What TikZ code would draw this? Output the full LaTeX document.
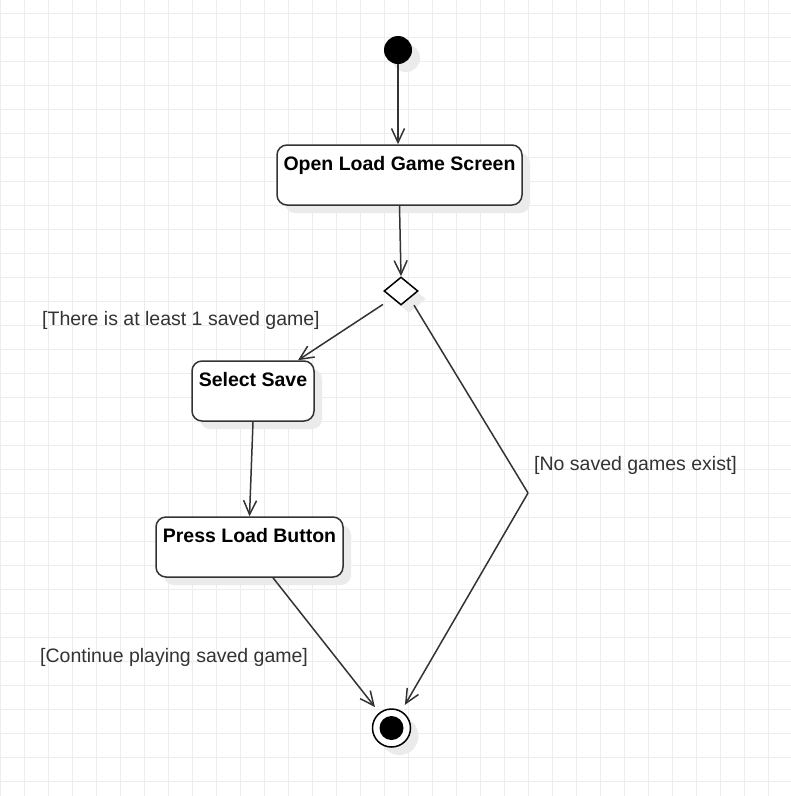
\documentclass[tikz,border=0pt]{standalone}
\usepackage{fontspec}
\setmainfont{Liberation Sans}
\usetikzlibrary{arrows.meta}
\usetikzlibrary{shapes.geometric}
\usetikzlibrary{shadows}
\usetikzlibrary{positioning}
\definecolor{mline}{HTML}{333333}
\definecolor{mgrid}{HTML}{EDEDED}
\definecolor{mshade}{HTML}{EBEBEB}
\tikzset{
  shadowed/.style = {drop shadow={shadow xshift=8pt, shadow yshift=-8pt, fill=mshade, opacity=1}},
  act/.style = {draw=mline, line width=1.5, rounded corners=10, fill=white, shadowed,
    font=\fontsize{19.5}{22}\selectfont\bfseries, text=black,
    text height=19, text depth=29, inner ysep=6, inner xsep=0},
  initial/.style = {circle, fill=black, inner sep=0, minimum size=28, shadowed},
  final/.style = {circle, draw=black, line width=1.5, fill=white, inner sep=0, minimum size=38, shadowed,
    path picture={\fill[black] (path picture bounding box.center) circle (12pt);}},
  choice/.style = {diamond, draw=black, line width=1.5, fill=white, inner sep=0,
    minimum width=34, minimum height=28, shadowed},
  flow/.style = {draw=mline, line width=1.5, -{Straight Barb[length=14pt, width=13pt]}},
  guard/.style = {anchor=west, inner sep=0, text=mline, font=\fontsize{19.5}{22}\selectfont}
}

\begin{document}
\begin{tikzpicture}[x=1pt, y=-1pt]
    \useasboundingbox (0, 0) rectangle (791, 796);
    \fill[white] (0, 0) rectangle (791, 796);
    \foreach \x in {0, 24, ..., 791} {
      \draw [mgrid, line width=1] (\x, 0) -- (\x, 796);
    }
    \foreach \y in {13, 37, ..., 796} {
      \draw [mgrid, line width=1] (0, \y) -- (791, \y);
    }

    \node [initial] (start) at (398, 50) {};
    \node [act, minimum width=245] (openscreen) at (399.5, 175) {Open Load Game Screen};
    \node [choice] (hasSave) at (401, 291) {};
    \node [act, minimum width=122] (selectSave) at (253, 391) {Select Save};
    \node [act, minimum width=187] (pressLoad) at (249.5, 547) {Press Load Button};
    \node [final] (done) at (391.5, 728) {};
    \coordinate (bend) at (528, 493);

    \draw [flow] (start.south) -- (start.south |- openscreen.north);
    \draw [flow] (openscreen.south) -- (hasSave.north);
    \draw [flow, shorten <=11pt] (hasSave.south west) -- ([xshift=45pt]selectSave.north);
    \draw [flow] (selectSave.south) -- (pressLoad.north);
    \draw [flow, shorten >=7pt] ([xshift=23.5pt]pressLoad.south) -- (done);
    \draw [draw=mline, line width=1.5, shorten <=8pt] (hasSave.south east) -- (bend);
    \draw [flow, shorten >=7pt] (bend) -- (done);

    \node [guard] (someSaved) at (42, 320) {[There is at least 1 saved game]};
    \node [guard] (noSaved) at (534, 465) {[No saved games exist]};
    \node [guard] (keepPlaying) at (40, 657) {[Continue playing saved game]};
  \end{tikzpicture}
\end{document}
